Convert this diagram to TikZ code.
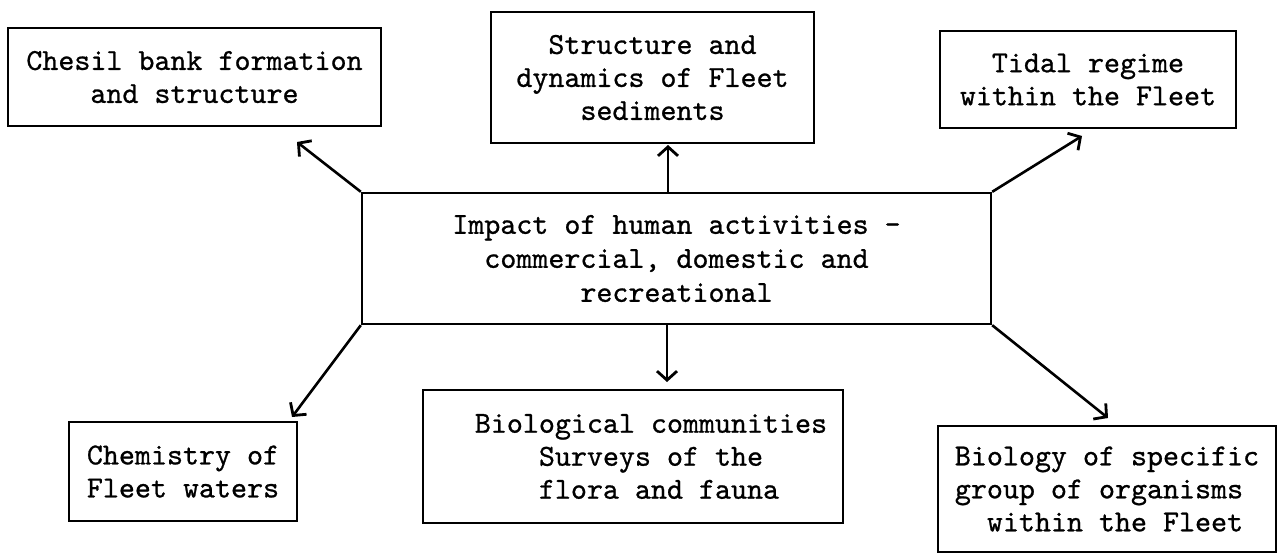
\documentclass[tikz,border=0pt]{standalone}
\usepackage{fontspec}
\newfontfamily\tw{lmmono10-regular.otf}[FakeBold=0.8]
\usetikzlibrary{arrows.meta}
\begin{document}
\begin{tikzpicture}[x=1pt,y=-1pt,
  box/.style={draw,line width=2.4pt,inner sep=0pt,align=center,
    font=\tw\fontsize{30.5}{33}\selectfont},
  conn/.style={line width=2.6pt,-{Straight Barb[length=9pt,width=20pt,line width=2.8pt]}}]
\useasboundingbox (0,0) rectangle (1278,554);
\node[box,minimum width=373,minimum height=98] (chesil) at (194.5,77) {Chesil bank formation\\and structure};
\node[box,minimum width=323,minimum height=131] (sed) at (652.5,77.5) {Structure and\\dynamics of Fleet\\sediments};
\node[box,minimum width=296,minimum height=97] (tidal) at (1088,79.5) {Tidal regime\\within the Fleet};
\node[box,minimum width=629,minimum height=131,font=\tw\fontsize{30.5}{34}\selectfont] (impact) at (676.5,258.5) {Impact of human activities -\\commercial, domestic and\\recreational};
\node[box,minimum width=228,minimum height=99,align=left] (chem) at (183,471.5) {Chemistry of\\Fleet waters};
\node[box,minimum width=420,minimum height=133,align=left] (bio) at (633,456.5) {\hspace*{36pt}Biological communities\\\hspace*{36pt}\phantom{xxxx}Surveys of the\\\hspace*{36pt}\phantom{xxxx}flora and fauna};
\node[box,minimum width=338,minimum height=126,align=left] (spec) at (1107,489) {Biology of specific\\group of organisms\\\phantom{xx}within the Fleet};
\coordinate (t1) at (297,142);
\coordinate (t2) at (668,145);
\coordinate (t3) at (1082,136);
\coordinate (t4) at (292,417);
\coordinate (t5) at (667,382);
\coordinate (t6) at (1108,418);
\draw[conn] (impact.north west) -- (t1);
\draw[conn] (impact.north -| t2) -- (t2);
\draw[conn] (impact.north east) -- (t3);
\draw[conn] (impact.south west) -- (t4);
\draw[conn] (impact.south -| t5) -- (t5);
\draw[conn] (impact.south east) -- (t6);
\end{tikzpicture}
\end{document}
